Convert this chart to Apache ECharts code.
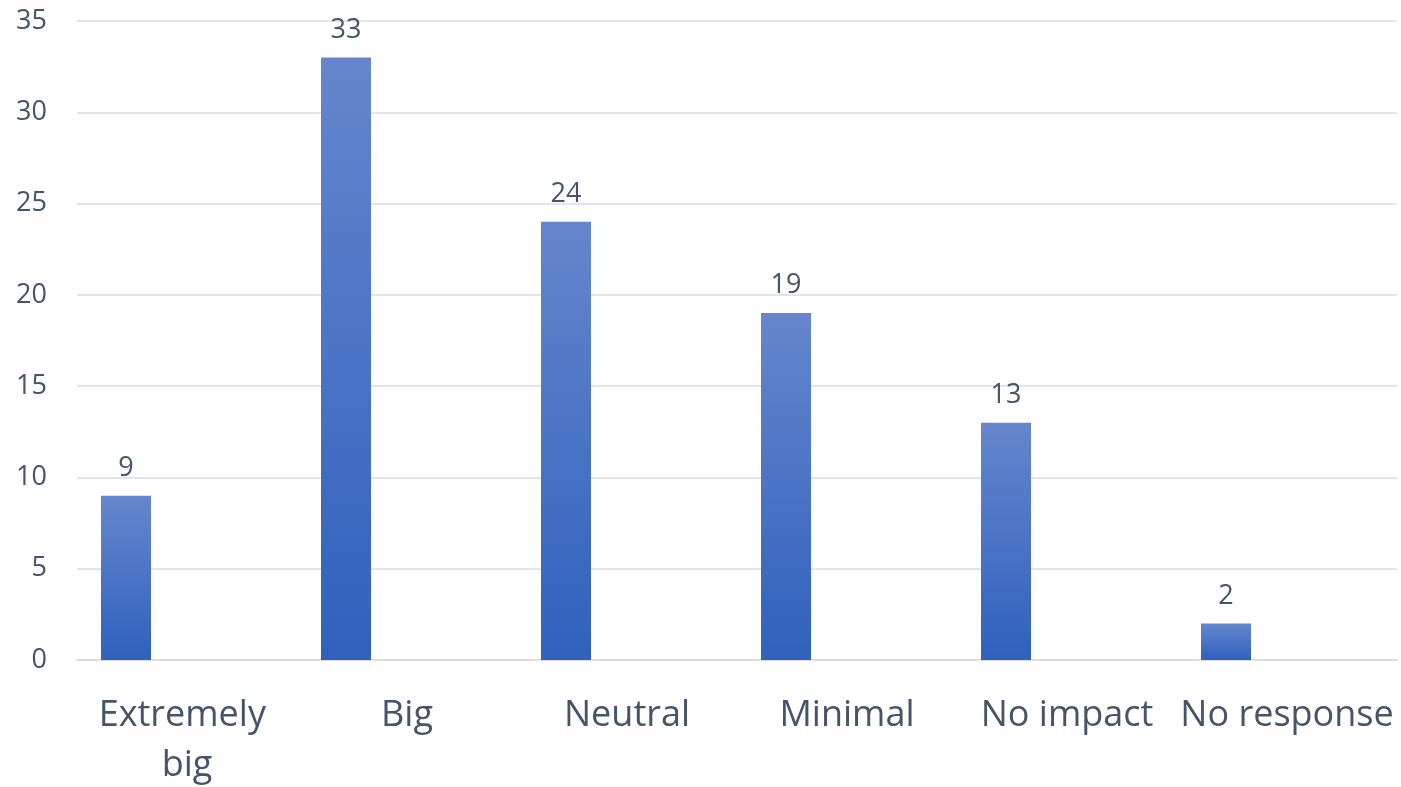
<!DOCTYPE html>
<html>
<head>
<meta charset="utf-8">
<script src="https://cdn.jsdelivr.net/npm/echarts@6/dist/echarts.min.js"></script>
<style>html,body{margin:0;padding:0;background:#fff}#c{width:1401px;height:787px}</style>
</head>
<body>
<div id="c"></div>
<script>
const categories = ["Extremely big", "Big", "Neutral", "Minimal", "No impact", "No response"];
const values = [9, 33, 24, 19, 13, 2];
const emptySeries = [null, null, null, null, null, null];
const yTicks = { min: 0, max: 35, interval: 5 };

const textColor = '#44546a';
const font = '"Open Sans", "Liberation Sans", sans-serif';
const chart = echarts.init(document.getElementById('c'), null, { renderer: 'canvas' });
chart.setOption({
  animation: false,
  grid: { left: 77, right: 4, top: 21, bottom: 127, containLabel: false, outerBoundsMode: 'none' },
  xAxis: {
    type: 'category',
    data: categories,
    axisTick: { show: false },
    axisLine: { show: true, lineStyle: { color: '#d9dde4', width: 2 } },
    axisLabel: {
      color: textColor, fontFamily: font, fontSize: 36, margin: 31,
      width: 218, overflow: 'break', lineHeight: 50, interval: 0
    }
  },
  yAxis: {
    type: 'value',
    min: yTicks.min, max: yTicks.max, interval: yTicks.interval,
    axisLine: { show: false },
    axisTick: { show: false },
    splitLine: { lineStyle: { color: '#e1e4ea', width: 2 } },
    axisLabel: { color: textColor, fontFamily: font, fontSize: 27, margin: 30 }
  },
  series: [
    {
      type: 'bar',
      data: values,
      barWidth: 50,
      barGap: '144%',
      itemStyle: {
        color: new echarts.graphic.LinearGradient(0, 0, 0, 1, [
          { offset: 0, color: '#6586cd' },
          { offset: 1, color: '#2f61bd' }
        ])
      },
      label: {
        show: true, position: 'top', distance: 14,
        color: textColor, fontFamily: font, fontSize: 27
      }
    },
    {
      type: 'bar',
      data: emptySeries,
      barWidth: 50
    }
  ]
});
</script>
</body>
</html>
